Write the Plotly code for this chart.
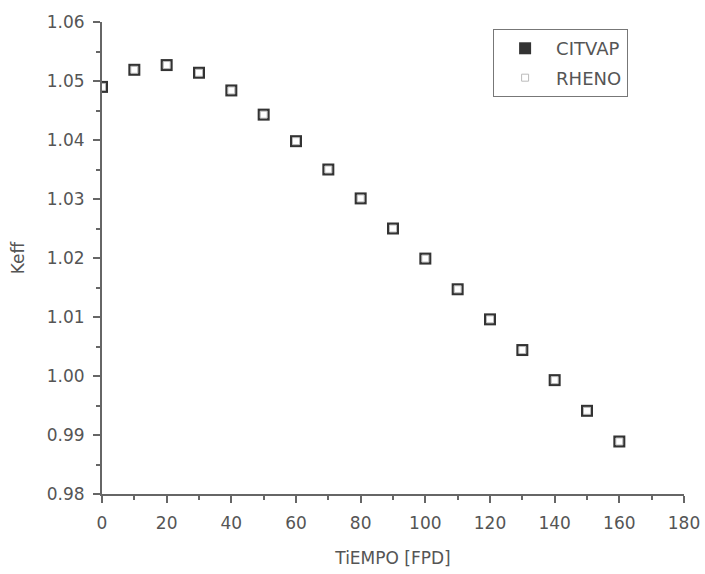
import plotly.graph_objects as go

tiempo = [0, 10, 20, 30, 40, 50, 60, 70, 80, 90, 100, 110, 120, 130, 140, 150, 160]
keff_citvap = [1.0490, 1.0519, 1.0527, 1.0514, 1.0484, 1.0443, 1.0398, 1.0350, 1.0301,
               1.0250, 1.0199, 1.0147, 1.0096, 1.0044, 0.9993, 0.9941, 0.9889]
keff_rheno = [1.0490, 1.0519, 1.0527, 1.0514, 1.0484, 1.0443, 1.0398, 1.0350, 1.0301,
              1.0250, 1.0199, 1.0147, 1.0096, 1.0044, 0.9993, 0.9941, 0.9889]

fig = go.Figure()
fig.add_trace(go.Scatter(x=tiempo, y=keff_citvap, mode="markers", name="CITVAP",
                         legendgroup="a",
                         marker=dict(symbol="square", size=12, color="#333333",
                                     line=dict(width=0)), cliponaxis=True))
fig.add_trace(go.Scatter(x=tiempo, y=keff_rheno, mode="markers", name="RHENO",
                         legendgroup="b",
                         marker=dict(symbol="square", size=7, color="white",
                                     line=dict(width=1, color="#bbbbbb")), cliponaxis=True))

axcol = "#666666"
fam = "DejaVu Sans, Liberation Sans, sans-serif"
font = dict(family=fam, size=17, color="#555555")

fig.update_layout(
    width=705, height=574,
    margin=dict(l=102, r=21, t=22, b=80, autoexpand=False),
    paper_bgcolor="white", plot_bgcolor="white",
    font=font,
    showlegend=True,
    legend=dict(x=0.672, y=0.985, xanchor="left", yanchor="top",
                bordercolor="#777777", borderwidth=1, bgcolor="white",
                font=dict(family=fam, size=18, color="#555555"), itemwidth=52,
                tracegroupgap=3),
    xaxis=dict(range=[0, 180], tickmode="linear", tick0=0, dtick=20,
               automargin=False,
               showgrid=False, zeroline=False, showline=True, linecolor=axcol, linewidth=2,
               ticks="outside", ticklen=7, tickcolor=axcol, tickwidth=1.5,
               ticklabelstandoff=6,
               minor=dict(dtick=10, ticks="outside", ticklen=4, tickcolor=axcol, showgrid=False),
               title=dict(text="TiEMPO [FPD]", standoff=20, font=dict(family=fam, size=17)),
               tickfont=dict(family=fam, size=17)),
    yaxis=dict(range=[0.98, 1.06], tickmode="linear", tick0=0.98, dtick=0.01,
               tickformat=".2f", automargin=False,
               showgrid=False, zeroline=False, showline=True, linecolor=axcol, linewidth=2,
               ticks="outside", ticklen=7, tickcolor=axcol, tickwidth=1.5,
               ticklabelstandoff=5,
               minor=dict(dtick=0.005, ticks="outside", ticklen=4, tickcolor=axcol, showgrid=False),
               title=dict(text="Keff", standoff=18, font=dict(family=fam, size=17)),
               tickfont=dict(family=fam, size=17)),
)

fig.write_html("out.html")
